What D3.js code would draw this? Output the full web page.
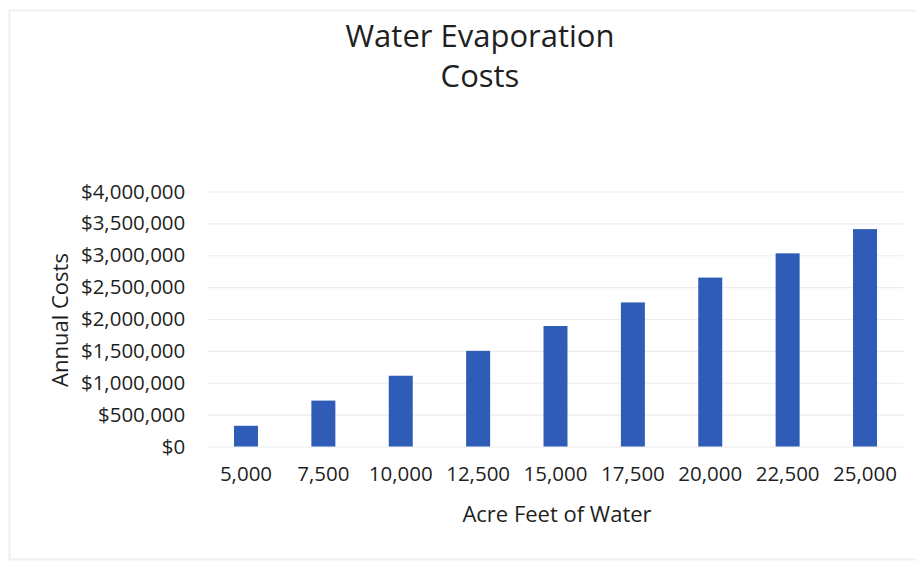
<!DOCTYPE html>
<html>
<head>
<meta charset="utf-8">
<script src="https://cdn.jsdelivr.net/npm/d3@7"></script>
<style>
  html, body { margin: 0; padding: 0; background: #fff; }
  svg { display: block; font-family: "Open Sans", sans-serif; }
</style>
</head>
<body>
<svg id="chart" width="916" height="562"></svg>
<script>
// Annual evaporation cost for each volume of stored water
const acreFeet = ["5,000", "7,500", "10,000", "12,500", "15,000", "17,500", "20,000", "22,500", "25,000"];
const annualCosts = [325000, 720000, 1110000, 1500000, 1890000, 2260000, 2650000, 3030000, 3410000];
const costTicks = [0, 500000, 1000000, 1500000, 2000000, 2500000, 3000000, 3500000, 4000000];

const svg = d3.select("#chart");
const W = 916, H = 562;
const plot = { left: 207.3, right: 903.7, top: 191.5, bottom: 446.5 };

// faint frame around the chart area
svg.append("rect")
  .attr("x", 9.5).attr("y", 10.5)
  .attr("width", W).attr("height", 549)
  .attr("fill", "none").attr("stroke", "#efefef").attr("stroke-width", 2);

const x = d3.scaleBand()
  .domain(acreFeet)
  .range([plot.left, plot.right])
  .paddingInner(0.69)
  .paddingOuter(0.345);

const y = d3.scaleLinear()
  .domain([0, 4000000])
  .range([plot.bottom, plot.top]);

const money = d => "$" + d3.format(",")(d);

// horizontal gridlines + value labels
const yAxis = d3.axisLeft(y)
  .tickValues(costTicks)
  .tickFormat(money)
  .tickSize(-(plot.right - plot.left))
  .tickPadding(22);

const gy = svg.append("g")
  .attr("transform", `translate(${plot.left},0)`)
  .call(yAxis);
gy.select(".domain").remove();
gy.selectAll(".tick line").attr("stroke", "#ececec").attr("stroke-width", 1.2);
gy.selectAll(".tick text")
  .attr("fill", "#1f1f1f")
  .attr("font-size", 20.5)
  .attr("font-family", "'Open Sans', sans-serif");

// category labels along the bottom
const xAxis = d3.axisBottom(x).tickSize(0).tickPadding(20);
const gx = svg.append("g")
  .attr("transform", `translate(0,${plot.bottom})`)
  .call(xAxis);
gx.select(".domain").remove();
gx.selectAll(".tick text")
  .attr("fill", "#1f1f1f")
  .attr("font-size", 20.5)
  .attr("font-family", "'Open Sans', sans-serif");

// bars
svg.append("g")
  .selectAll("rect")
  .data(annualCosts)
  .join("rect")
  .attr("x", (d, i) => x(acreFeet[i]))
  .attr("y", d => y(d))
  .attr("width", x.bandwidth())
  .attr("height", d => y(0) - y(d))
  .attr("fill", "#2f5cb6");

// titles
svg.append("text")
  .attr("x", 480).attr("y", 47)
  .attr("text-anchor", "middle")
  .attr("font-size", 31).attr("fill", "#1f1f1f")
  .text("Water Evaporation");
svg.append("text")
  .attr("x", 480).attr("y", 87)
  .attr("text-anchor", "middle")
  .attr("font-size", 31).attr("fill", "#1f1f1f")
  .text("Costs");

svg.append("text")
  .attr("x", 557).attr("y", 522)
  .attr("text-anchor", "middle")
  .attr("font-size", 22).attr("fill", "#1f1f1f")
  .text("Acre Feet of Water");

svg.append("text")
  .attr("transform", "translate(68,320) rotate(-90)")
  .attr("text-anchor", "middle")
  .attr("font-size", 22).attr("fill", "#1f1f1f")
  .text("Annual Costs");
</script>
</body>
</html>
